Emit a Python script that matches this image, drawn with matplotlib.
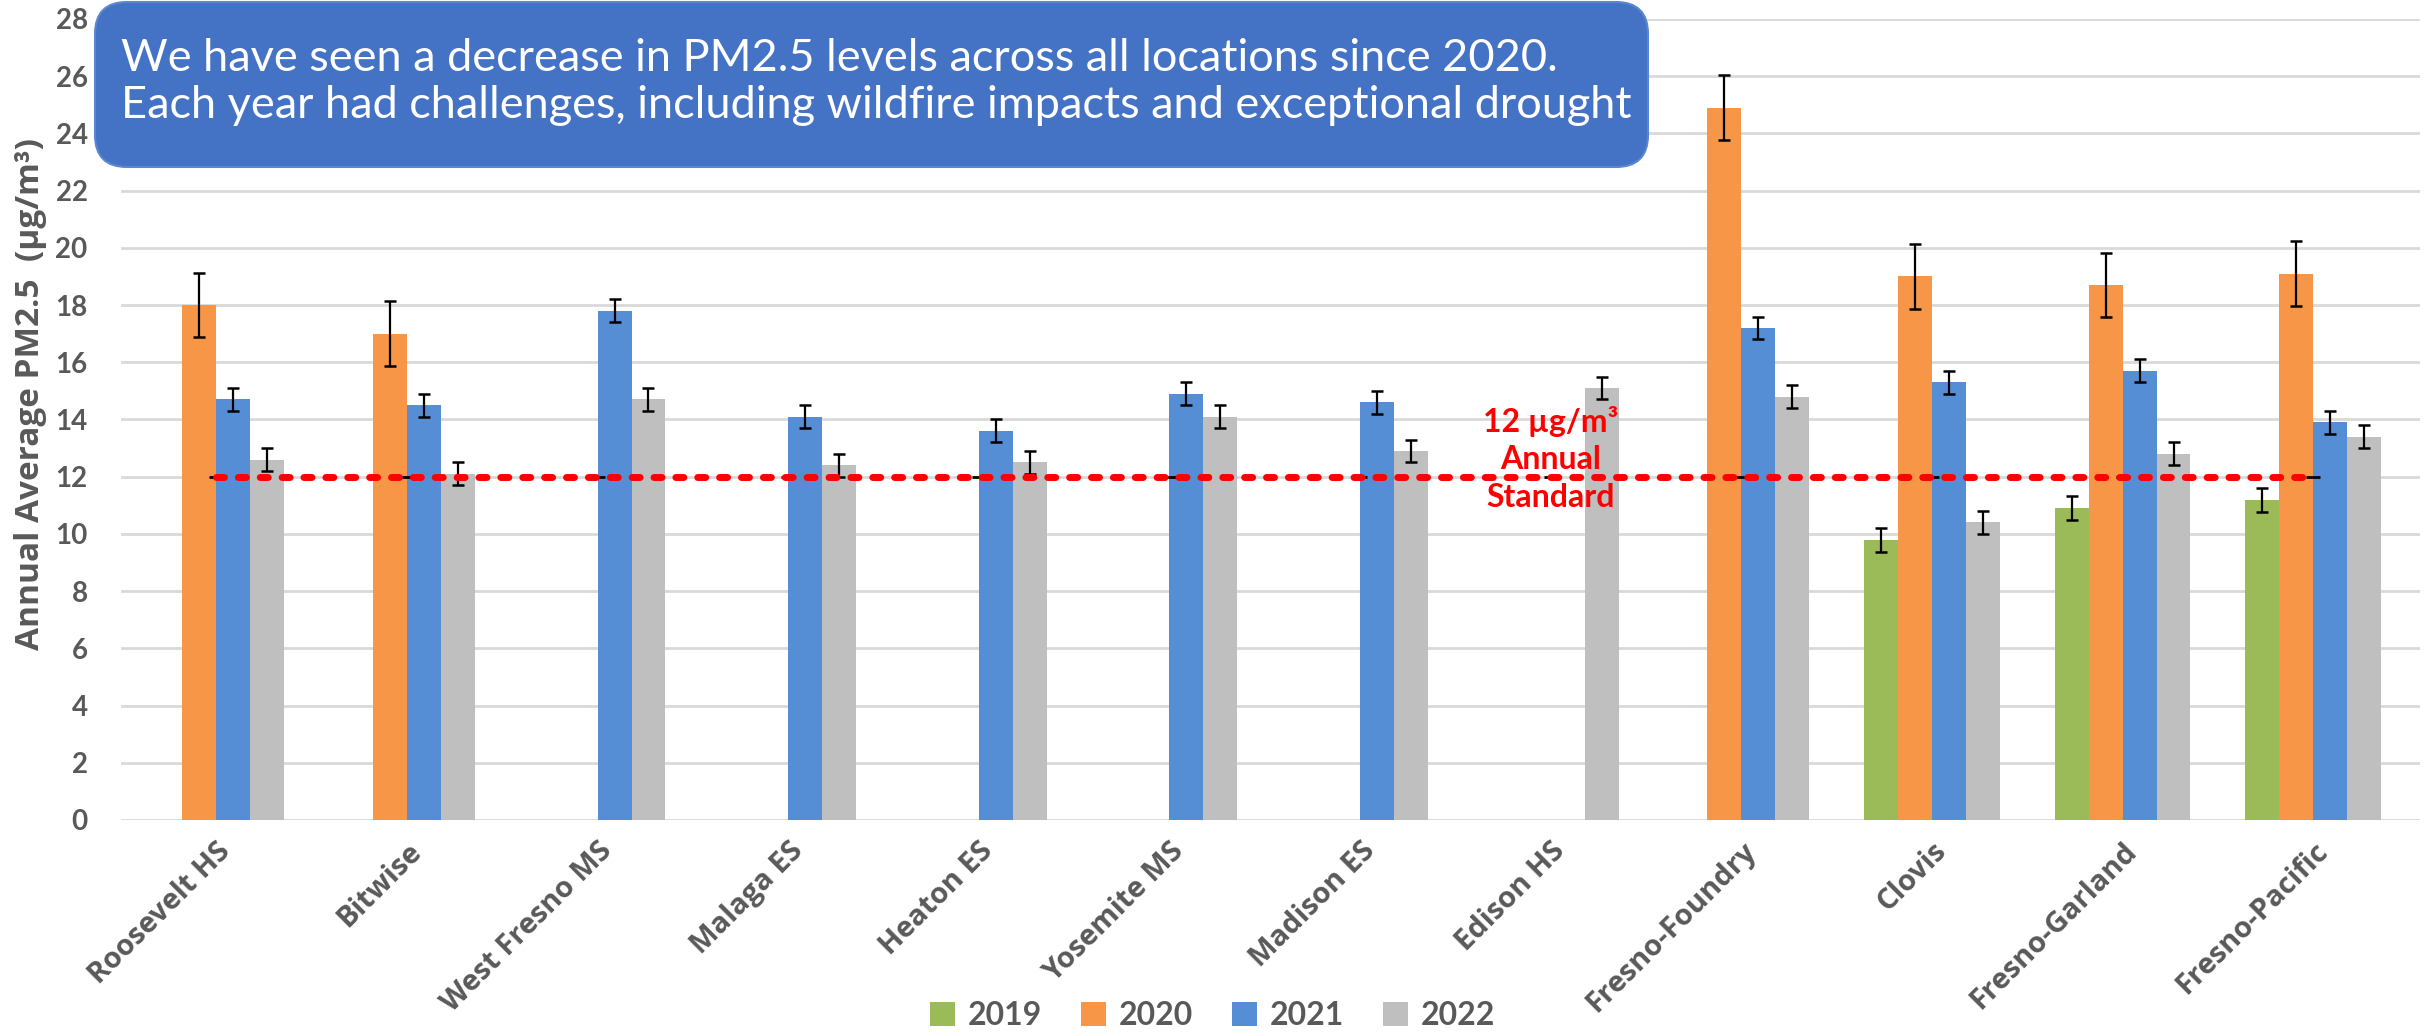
import numpy as np
import matplotlib.pyplot as plt
from matplotlib.patches import FancyBboxPatch

nan = np.nan

sites = ['Roosevelt HS', 'Bitwise', 'West Fresno MS', 'Malaga ES', 'Heaton ES',
         'Yosemite MS', 'Madison ES', 'Edison HS', 'Fresno-Foundry', 'Clovis',
         'Fresno-Garland', 'Fresno-Pacific']
years = ['2019', '2020', '2021', '2022']

pm_2019 = [nan, nan, nan, nan, nan, nan, nan, nan, nan, 9.8, 10.9, 11.2]
pm_2020 = [18.0, 17.0, nan, nan, nan, nan, nan, nan, 24.9, 19.0, 18.7, 19.1]
pm_2021 = [14.7, 14.5, 17.8, 14.1, 13.6, 14.9, 14.6, nan, 17.2, 15.3, 15.7, 13.9]
pm_2022 = [12.6, 12.1, 14.7, 12.4, 12.5, 14.1, 12.9, 15.1, 14.8, 10.4, 12.8, 13.4]

err_2019 = [nan] * 9 + [0.42, 0.42, 0.42]
err_2020 = [1.13, 1.13, nan, nan, nan, nan, nan, nan, 1.14, 1.13, 1.13, 1.13]
err_2021 = [0.4] * 7 + [nan] + [0.4] * 4
err_2022 = [0.4] * 12

standard = [12] * len(sites)

colors = ['#9BBB59', '#F79646', '#558ED5', '#BFBFBF']
grey_txt = '#595959'

W, H = 2425, 1032
fig = plt.figure(figsize=(W / 100, H / 100), dpi=100)
ax = fig.add_axes([121 / W, 1 - 820 / H, (2420 - 121) / W, (820 - 19) / H])

x = np.arange(len(sites))
bw = 0.178
series = [pm_2019, pm_2020, pm_2021, pm_2022]
errs = [err_2019, err_2020, err_2021, err_2022]

for k, (vals, ee) in enumerate(zip(series, errs)):
    vals = np.array(vals, dtype=float)
    ee = np.array(ee, dtype=float)
    xs = x + (k - 1.5) * bw
    ok = ~np.isnan(vals)
    ax.bar(xs[ok], vals[ok], width=bw, color=colors[k], zorder=2, label=years[k])
    ax.errorbar(xs[ok], vals[ok], yerr=ee[ok], fmt='none', ecolor='black',
                elinewidth=1.6, capsize=4.5, capthick=1.8, zorder=3)

# 12 ug/m3 standard line
ax.plot(x, standard, ls='none', marker='_', ms=10, mew=2, color='black', zorder=4)
ax.plot(x, standard, color='#FF0000', lw=5, dashes=(1.15, 2.0),
        dash_capstyle='round', zorder=5)
std_lines = ['12 µg/m³', 'Annual', 'Standard']
std_y = [13.93, 12.6, 11.26]
for s, yy in zip(std_lines, std_y):
    ax.text(7.0, yy, s, color='#FF0000', fontsize=23, fontweight='bold',
            family='Lato', ha='center', va='center', zorder=6)

ax.set_xlim(-0.5, 11.56)
ax.set_ylim(0, 28)
ax.set_yticks(range(0, 29, 2))
ax.yaxis.grid(True, color='#D9D9D9', lw=2)
ax.set_axisbelow(True)
for s in ax.spines.values():
    s.set_visible(False)
ax.tick_params(length=0)
ax.tick_params(axis='y', pad=24)
for t in ax.get_yticklabels():
    t.set_family('Lato')
    t.set_fontweight('bold')
    t.set_fontsize(20)
    t.set_color(grey_txt)
ax.set_xticks(x)
ax.set_xticklabels(sites, rotation=45, ha='right', rotation_mode='anchor',
                   family='Open Sans', fontweight='bold', fontsize=21, color=grey_txt)
ax.tick_params(axis='x', pad=12)
ax.set_ylabel('Annual Average PM2.5  (µg/m³)', family='Open Sans', fontweight='bold',
              fontsize=24, color=grey_txt)
ax.yaxis.set_label_coords(-0.032, 0.532)

leg = fig.legend(loc='center', bbox_to_anchor=(0.5, 0.016), ncol=4, frameon=False,
                 handlelength=0.8, handleheight=0.8, handletextpad=0.4,
                 columnspacing=1.2,
                 prop={'family': 'Lato', 'weight': 'bold', 'size': 23})
for t in leg.get_texts():
    t.set_color(grey_txt)

# callout box in pixel coordinates
ov = fig.add_axes([0, 0, 1, 1], zorder=10)
ov.set_xlim(0, W)
ov.set_ylim(H, 0)
ov.axis('off')
ov.patch.set_visible(False)
box = FancyBboxPatch((95, 2), 1553, 165, boxstyle='round,pad=0,rounding_size=32',
                     facecolor='#4472C4', edgecolor='#5B86D0', lw=1.5)
ov.add_patch(box)
ov.text(121, 82, 'We have seen a decrease in PM2.5 levels across all locations since 2020.\n'
        'Each year had challenges, including wildfire impacts and exceptional drought',
        color='white', fontsize=32.5, family='Lato', ha='left', va='center',
        linespacing=1.2)

fig.savefig('out.png', dpi=100)
